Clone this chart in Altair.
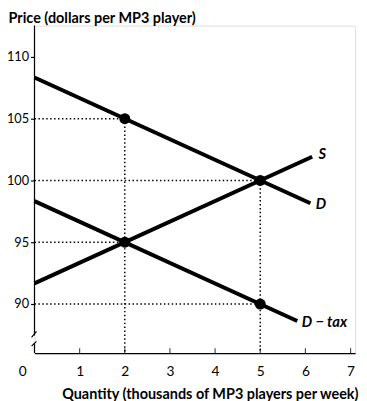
import altair as alt
import pandas as pd

FONT = "Lato"

# --- data ---
curve_names = ["D", "S", "D − tax"]
curve_q0 = [0, 0, 0]
curve_p0 = [108.33, 91.67, 98.33]
curve_q1 = [6.11, 6.15, 5.82]
curve_p1 = [98.15, 101.92, 88.63]

point_q = [2, 5, 2, 5]
point_p = [105, 100, 95, 90]

vert_q = [2, 5]
vert_p = [105, 100]

label_text = ["S", "D", "D − tax"]
label_q = [6.29, 6.23, 5.92]
label_p = [102.17, 98.07, 88.55]

x_ticks = [1, 2, 3, 4, 5, 6, 7]
y_ticks = [90, 95, 100, 105, 110]

X_MIN, X_MAX = 0, 7.1
Y_MIN, Y_MAX = 86.03, 112.54

# y-axis line pieces (with a break) and break slashes
axis_seg_y = [87.46, 86.03]
axis_seg_y2 = [Y_MAX, 86.83]
slash_x = [-0.064, -0.064]
slash_x2 = [0.043, 0.043]
slash_y = [87.30, 86.59]
slash_y2 = [87.78, 86.98]

LEFT, TOP = 27, 14
W, H = 327, 334

xs = alt.Scale(domain=[X_MIN, X_MAX], nice=False, zero=False)
ys = alt.Scale(domain=[Y_MIN, Y_MAX], nice=False, zero=False)

curves = pd.DataFrame({"name": curve_names, "q0": curve_q0, "p0": curve_p0,
                       "q1": curve_q1, "p1": curve_p1})
pts = pd.DataFrame({"q": point_q, "p": point_p})
verts = pd.DataFrame({"q": vert_q, "p": vert_p, "bottom": [Y_MIN] * len(vert_q)})
horiz = pd.DataFrame({"q0": [0] * len(point_q), "q": point_q, "p": point_p})
labels = pd.DataFrame({"t": label_text, "q": label_q, "p": label_p})
axseg = pd.DataFrame({"x": [0, 0], "y": axis_seg_y, "y2": axis_seg_y2})
slashes = pd.DataFrame({"x": slash_x, "x2": slash_x2, "y": slash_y, "y2": slash_y2})
zero_lab = pd.DataFrame({"q": [0], "p": [Y_MIN], "t": ["0"]})
xt = pd.DataFrame({"q": x_ticks, "p": [Y_MIN] * len(x_ticks)})

x_axis = alt.Axis(values=x_ticks, ticks=False, tickSize=0, labelPadding=12,
                  labelFontSize=14, labelFont=FONT, labelColor="black",
                  domainColor="black", domainWidth=1.2, grid=False,
                  title="Quantity (thousands of MP3 players per week)",
                  titleFont=FONT, titleFontSize=14.7, titleFontWeight="bold",
                  titleColor="black", titleAnchor="end", titleAlign="right",
                  titleX=W + 3, titleY=46, titleBaseline="alphabetic")
y_axis = alt.Axis(values=y_ticks, tickSize=4, tickColor="black", tickWidth=1.2,
                  labelPadding=2, labelFontSize=13, labelFont=FONT,
                  labelColor="black", domain=False, grid=False,
                  title="Price (dollars per MP3 player)", titleAngle=0,
                  titleFont=FONT, titleFontSize=14.7, titleFontWeight="bold",
                  titleColor="black", titleAlign="left", titleAnchor="start",
                  titleX=-LEFT, titleY=-3, titleBaseline="alphabetic")

dot = dict(color="black", strokeWidth=1.5, strokeDash=[1.5, 2.5])

base_lines = alt.Chart(curves).mark_rule(color="black", strokeWidth=4, strokeCap="butt").encode(
    x=alt.X("q0:Q", scale=xs, axis=x_axis),
    x2="q1:Q",
    y=alt.Y("p0:Q", scale=ys, axis=y_axis),
    y2="p1:Q",
)

points = alt.Chart(pts).mark_circle(color="black", opacity=1, size=125).encode(
    x=alt.X("q:Q", scale=xs), y=alt.Y("p:Q", scale=ys))

h_dots = alt.Chart(horiz).mark_rule(**dot).encode(
    x=alt.X("q0:Q", scale=xs), x2="q:Q", y=alt.Y("p:Q", scale=ys))
v_dots = alt.Chart(verts).mark_rule(**dot).encode(
    x=alt.X("q:Q", scale=xs), y=alt.Y("p:Q", scale=ys), y2="bottom:Q")

axis_line = alt.Chart(axseg).mark_rule(color="black", strokeWidth=1.2).encode(
    x=alt.X("x:Q", scale=xs), y=alt.Y("y:Q", scale=ys), y2="y2:Q")
slash = alt.Chart(slashes).mark_rule(color="black", strokeWidth=1.2).encode(
    x=alt.X("x:Q", scale=xs), x2="x2:Q", y=alt.Y("y:Q", scale=ys), y2="y2:Q")

xtick = alt.Chart(xt).mark_tick(color="black", size=6, thickness=1.2,
                                orient="vertical", yOffset=-2).encode(
    x=alt.X("q:Q", scale=xs), y=alt.Y("p:Q", scale=ys))

text = alt.Chart(labels).mark_text(font=FONT, fontSize=15, fontWeight="bold",
                                   fontStyle="italic", align="left",
                                   baseline="middle", color="black").encode(
    x=alt.X("q:Q", scale=xs), y=alt.Y("p:Q", scale=ys), text="t:N")

zero = alt.Chart(zero_lab).mark_text(font=FONT, fontSize=14, align="center",
                                     baseline="top", dx=-12, dy=12, color="black").encode(
    x=alt.X("q:Q", scale=xs), y=alt.Y("p:Q", scale=ys), text="t:N")

chart = alt.layer(base_lines, h_dots, v_dots, points, axis_line, slash, xtick, text, zero).properties(
    width=W, height=H,
    autosize=alt.AutoSizeParams(type="none"),
    padding={"left": LEFT, "top": TOP, "right": 4, "bottom": 46},
).configure_view(stroke=None).configure(background="white")

chart.save("out.html", embed_options={"renderer": "svg", "actions": False})
